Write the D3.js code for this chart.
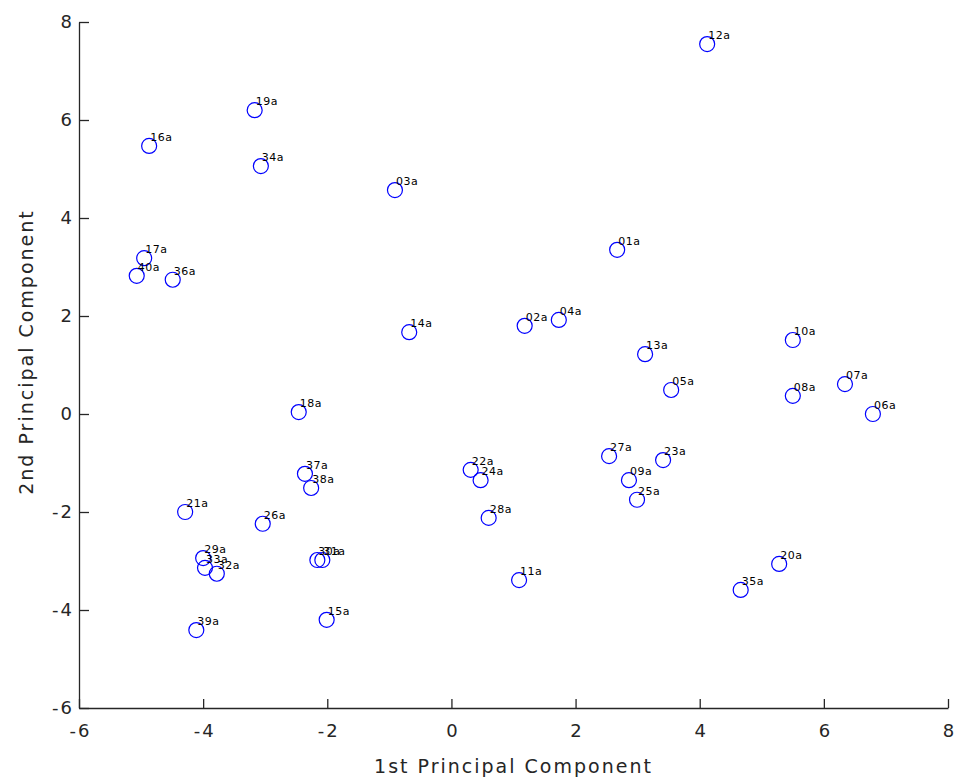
<!DOCTYPE html>
<html>
<head>
<meta charset="utf-8">
<script src="https://cdn.jsdelivr.net/npm/d3@7"></script>
<style>
  body { margin: 0; background: #fff; }
  svg text { font-family: "DejaVu Sans", "Liberation Sans", Arial, sans-serif; }
</style>
</head>
<body>
<svg id="chart" width="958" height="781"></svg>
<script>
// Sample names and their scores on the first two principal components
const labels = ["01a","02a","03a","04a","05a","06a","07a","08a","09a","10a",
                "11a","12a","13a","14a","15a","16a","17a","18a","19a","20a",
                "21a","22a","23a","24a","25a","26a","27a","28a","29a","30a",
                "31a","32a","33a","34a","35a","36a","37a","38a","39a","40a"];
const pc1 = [2.67, 1.18, -0.91, 1.73, 3.54, 6.79, 6.34, 5.50, 2.86, 5.50,
             1.09, 4.12, 3.12, -0.68, -2.01, -4.87, -4.95, -2.46, -3.17, 5.28,
             -4.29, 0.31, 3.41, 0.47, 2.99, -3.04, 2.54, 0.60, -4.00, -2.16,
             -2.08, -3.78, -3.97, -3.07, 4.66, -4.49, -2.36, -2.26, -4.11, -5.07];
const pc2 = [3.35, 1.80, 4.57, 1.92, 0.49, 0.00, 0.61, 0.37, -1.35, 1.51,
             -3.39, 7.55, 1.22, 1.67, -4.20, 5.47, 3.18, 0.04, 6.20, -3.06,
             -2.00, -1.14, -0.94, -1.35, -1.75, -2.24, -0.86, -2.12, -2.94, -2.98,
             -2.98, -3.26, -3.14, 5.06, -3.59, 2.74, -1.22, -1.51, -4.41, 2.82];
const xTicks = [-6, -4, -2, 0, 2, 4, 6, 8];
const yTicks = [-6, -4, -2, 0, 2, 4, 6, 8];

const svg = d3.select("#chart");
const plotLeft = 79, plotRight = 948, plotTop = 22, plotBottom = 708;
const axisColor = "#262626";

const x = d3.scaleLinear().domain([-6, 8]).range([plotLeft, plotRight]);
const y = d3.scaleLinear().domain([-6, 8]).range([plotBottom, plotTop]);

const minus = d => d < 0 ? "-" + Math.abs(d) : String(d);

// Axes with inward ticks, no box
const xAxis = svg.append("g")
  .attr("transform", `translate(0,${plotBottom})`)
  .call(d3.axisBottom(x).tickValues(xTicks).tickSizeInner(-9).tickSizeOuter(0).tickFormat(minus));
xAxis.select(".domain").attr("stroke", axisColor).attr("stroke-width", 1.3);
xAxis.selectAll(".tick line").attr("stroke", axisColor).attr("stroke-width", 1.3);
xAxis.selectAll(".tick text").attr("y", 16).attr("dx", 1).attr("font-size", 18)
  .attr("letter-spacing", 2).attr("fill", axisColor);

const yAxis = svg.append("g")
  .attr("transform", `translate(${plotLeft},0)`)
  .call(d3.axisLeft(y).tickValues(yTicks).tickSizeInner(-10).tickSizeOuter(0).tickFormat(minus));
yAxis.select(".domain").attr("stroke", axisColor).attr("stroke-width", 1.3);
yAxis.selectAll(".tick line").attr("stroke", axisColor).attr("stroke-width", 1.3);
yAxis.selectAll(".tick text").attr("x", -5).attr("font-size", 18)
  .attr("letter-spacing", 2).attr("fill", axisColor);

// Axis titles
svg.append("text")
  .attr("x", (plotLeft + plotRight) / 2).attr("y", 773)
  .attr("text-anchor", "middle").attr("font-size", 19).attr("letter-spacing", 2)
  .attr("fill", axisColor)
  .text("1st Principal Component");
svg.append("text")
  .attr("transform", `translate(33,352) rotate(-90)`)
  .attr("text-anchor", "middle").attr("font-size", 19).attr("letter-spacing", 2)
  .attr("fill", axisColor)
  .text("2nd Principal Component");

// Scores as open circles with their sample names
const pts = labels.map((l, i) => ({ label: l, a: pc1[i], b: pc2[i] }));
svg.append("g").selectAll("circle").data(pts).join("circle")
  .attr("cx", d => x(d.a)).attr("cy", d => y(d.b)).attr("r", 7.5)
  .attr("fill", "none").attr("stroke", "#0000ff").attr("stroke-width", 1.2);
svg.append("g").selectAll("text").data(pts).join("text")
  .attr("x", d => x(d.a) + 1).attr("y", d => y(d.b) - 5)
  .attr("font-size", 11).attr("letter-spacing", 0.5).attr("fill", "#000")
  .text(d => d.label);
</script>
</body>
</html>
